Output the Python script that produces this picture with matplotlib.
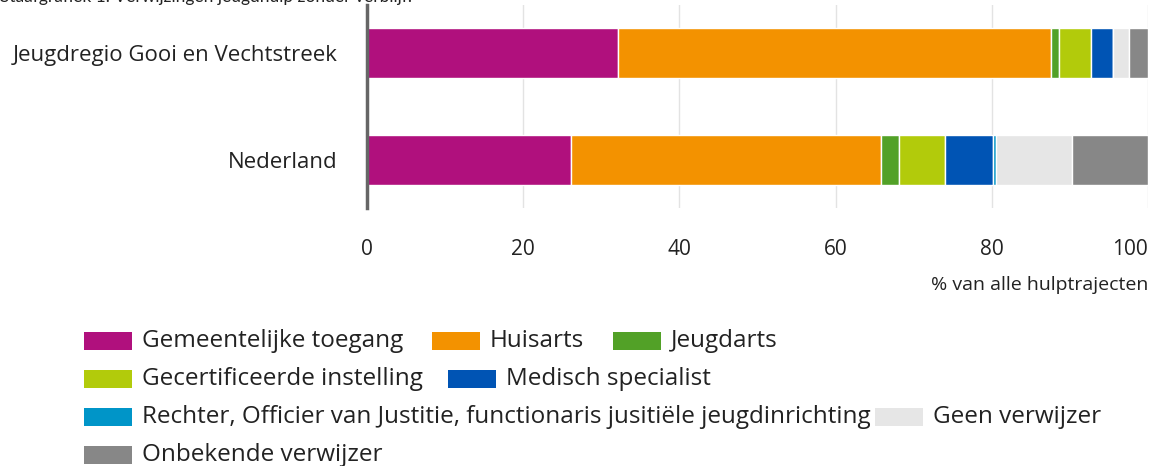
import matplotlib.pyplot as plt
from matplotlib.patches import Rectangle

regios = ['Jeugdregio Gooi en Vechtstreek', 'Nederland']
verwijzers = ['Gemeentelijke toegang', 'Huisarts', 'Jeugdarts',
              'Gecertificeerde instelling', 'Medisch specialist',
              'Rechter, Officier van Justitie, functionaris jusitiële jeugdinrichting',
              'Geen verwijzer', 'Onbekende verwijzer']
gooi = [32.2, 55.4, 1.0, 4.1, 2.8, 0.0, 2.1, 2.4]
nederland = [26.1, 39.7, 2.3, 5.9, 6.2, 0.4, 9.7, 9.7]
kleuren = ['#b0107d', '#f39200', '#52a127', '#b2cb0b', '#0054b4',
           '#0095c8', '#e6e6e6', '#878787']
xticks = [0, 20, 40, 60, 80, 100]

plt.rcParams['font.family'] = 'Open Sans'
W, H = 1152, 466
fig = plt.figure(figsize=(W / 100, H / 100), dpi=100)
ax = fig.add_axes([367 / W, 1 - 208 / H, (1148 - 367) / W, 203 / H])

links = [0, 0]
for i, naam in enumerate(verwijzers):
    waarden = [gooi[i], nederland[i]]
    ax.barh([0, 1], waarden, left=links, height=0.47, color=kleuren[i],
            edgecolor='white', linewidth=1.0, zorder=3)
    links = [links[0] + waarden[0], links[1] + waarden[1]]

ax.set_xlim(0, 100)
ax.set_ylim(1.45, -0.45)
ax.set_yticks([0, 1])
ax.set_yticklabels(regios, fontsize=16, color='#222222')
ax.set_xticks(xticks)
ax.set_xticklabels([str(t) for t in xticks], fontsize=15, color='#222222')
ax.get_xticklabels()[-1].set_horizontalalignment('right')
ax.tick_params(axis='both', length=0)
ax.tick_params(axis='x', pad=22)
ax.tick_params(axis='y', pad=21)
ax.grid(axis='x', color='#e3e3e3', linewidth=1, zorder=0)
for s in ['top', 'right', 'bottom']:
    ax.spines[s].set_visible(False)
ax.spines['left'].set_color('#666666')
ax.spines['left'].set_linewidth(2.5)
ax.spines['left'].set_zorder(5)
ax.set_xlabel('% van alle hulptrajecten', loc='right', fontsize=14,
              color='#222222', labelpad=12)

# titel (deels buiten beeld, zoals in origineel)
fig.text(0.0, 1 - 2 / H, 'Staafgrafiek 1. Verwijzingen jeugdhulp zonder verblijf.',
         fontsize=12.5, family='Lato', va='baseline', ha='left', color='#222222')

# legenda handmatig
posities = [(84, 341), (432, 341), (613, 341),
            (84, 379), (448, 379),
            (84, 417), (875, 417),
            (84, 455)]
for (px, py), naam, kleur in zip(posities, verwijzers, kleuren):
    fig.add_artist(Rectangle((px / W, 1 - (py + 9) / H), 48 / W, 18 / H,
                             transform=fig.transFigure, color=kleur, lw=0))
    fig.text((px + 58) / W, 1 - py / H, naam, fontsize=17.5, va='center',
             ha='left', color='#222222', zorder=0)

plt.savefig('out.png', dpi=100)
